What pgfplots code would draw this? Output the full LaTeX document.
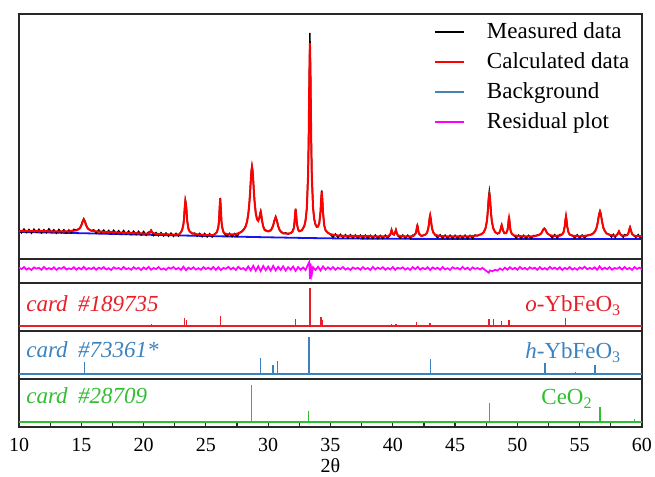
\documentclass[border=0pt]{standalone}
\usepackage{fontspec}
\setmainfont{Liberation Serif}
\usepackage{pgfplots}
\pgfplotsset{compat=1.18}

\definecolor{calcred}{RGB}{255,0,0}
\definecolor{cardred}{RGB}{232,30,40}
\definecolor{cardblue}{RGB}{60,130,190}
\definecolor{cardgreen}{RGB}{50,190,50}
\definecolor{bgblue}{RGB}{20,20,245}
\definecolor{legblue}{RGB}{70,130,180}
\definecolor{framegray}{RGB}{40,40,40}
\definecolor{resmag}{RGB}{255,0,255}

\pgfplotsset{
  panel/.style={
    scale only axis, width=311.5pt, xmin=10, xmax=60,
    xtick=\empty, ytick=\empty, anchor=south west,
    axis line style={framegray, line width=0.8pt},
  },
  card/.style={panel, height=24pt, ymin=-5, ymax=43},
  stick/.style={ycomb, line width=0.75pt, mark=none},
}
\tikzset{cardlbl/.style={font=\fontsize{11.5}{13}\selectfont, inner sep=0pt}}

\begin{document}
\begin{tikzpicture}
\path[use as bounding box] (0,0) rectangle (327.5pt,238.5pt);

% fitted pattern
\begin{axis}[panel, at={(9.5pt,109pt)}, height=122.5pt, ymin=0, ymax=245,
  legend style={draw=none, fill=none, at={(rel axis cs:0.99,0.99)}, anchor=north east,
    font=\fontsize{11.5}{14}\selectfont, inner sep=1pt, row sep=1.4pt,
    /tikz/every odd column/.append style={column sep=9pt}},
  legend cell align=left,
  legend image code/.code={\draw[#1, line width=1pt] (0pt,0pt) -- (14.5pt,0pt);},
]
\addlegendimage{black}
\addlegendentry{Measured data}
\addlegendimage{calcred}
\addlegendentry{Calculated data}
\addlegendimage{legblue}
\addlegendentry{Background}
\addlegendimage{resmag}
\addlegendentry{Residual plot}

\addplot[forget plot, bgblue, line width=0.9pt] coordinates {
(10,27) (15,25.8) (20,24.3) (25,23) (28,22.2) (30,21.7) (33,21) (36,20.5) (40,20.2) (45,20) (60,20)};

\addplot[forget plot, black, line width=0.7pt] coordinates {
(10.0,29.4) (10.2,26.3) (10.4,30.0) (10.6,26.6) (10.8,29.5) (11.0,25.9) (11.2,29.8) (11.4,26.8) (11.6,29.7) (11.8,26.0)
(12.0,29.3) (12.2,26.4) (12.4,30.2) (12.6,26.7) (12.8,29.2) (13.0,25.8) (13.2,29.5) (13.4,26.2) (13.6,29.2) (13.8,25.9)
(14.0,29.0) (14.2,26.4) (14.4,29.6) (14.6,28.9) (14.8,30.3) (14.9,31.5) (15.0,34.0) (15.1,37.8) (15.2,40.3) (15.3,37.6)
(15.4,33.8) (15.5,31.2) (15.6,29.9) (15.8,28.1) (16.0,29.2) (16.2,25.8) (16.4,29.1) (16.6,26.0) (16.8,28.9) (17.0,25.6)
(17.2,28.6) (17.4,25.4) (17.6,28.7) (17.8,25.2) (18.0,28.3) (18.2,25.0) (18.4,28.4) (18.6,24.8) (18.8,27.9) (19.0,24.5)
(19.2,27.8) (19.4,24.4) (19.6,27.6) (19.8,24.0) (20.0,27.5) (20.2,23.9) (20.4,27.0) (20.5,26.9) (20.6,29.0) (20.7,26.8)
(20.8,23.6) (21.0,26.4) (21.2,23.3) (21.4,26.3) (21.6,23.1) (21.8,26.0) (22.0,22.8) (22.2,25.9) (22.4,22.7) (22.6,25.6)
(22.8,23.0) (23.0,27.0) (23.1,29.5) (23.2,35.3) (23.25,41.6) (23.3,51.8) (23.35,58.8) (23.4,55.6) (23.45,48.3) (23.5,38.4)
(23.6,30.5) (23.7,27.6) (23.9,25.2) (24.1,25.9) (24.3,22.8) (24.5,25.6) (24.7,22.3) (24.9,25.5) (25.1,22.1) (25.3,25.3)
(25.5,22.0) (25.7,25.2) (25.8,25.9) (25.9,27.6) (26.0,32.4) (26.05,38.0) (26.1,51.2) (26.15,61.2) (26.2,51.0) (26.25,38.2)
(26.3,32.3) (26.4,27.0) (26.5,25.1) (26.7,22.6) (26.9,25.6) (27.1,22.3) (27.3,25.4) (27.5,22.5) (27.7,26.3) (27.9,27.9)
(28.1,30.8) (28.2,33.2) (28.3,37.6) (28.4,44.9) (28.5,58.0) (28.55,67.6) (28.6,78.6) (28.65,88.2) (28.7,93.0) (28.75,88.8)
(28.8,79.2) (28.85,68.3) (28.9,58.9) (29.0,46.4) (29.1,40.2) (29.2,38.8) (29.3,42.0) (29.35,45.8) (29.4,48.0) (29.45,44.5)
(29.5,39.2) (29.6,33.0) (29.7,29.9) (29.8,28.9) (30.0,27.9) (30.2,29.0) (30.3,30.8) (30.4,33.9) (30.5,38.8) (30.6,42.4)
(30.7,38.7) (30.8,33.1) (30.9,29.2) (31.0,27.3) (31.2,25.4) (31.4,26.2) (31.6,24.9) (31.8,25.9) (31.95,27.8) (32.05,31.0)
(32.1,35.4) (32.15,43.8) (32.2,50.2) (32.25,44.1) (32.3,35.9) (32.4,29.2) (32.5,27.6) (32.7,28.9) (32.9,33.3) (33.0,38.9)
(33.1,51.0) (33.2,84.0) (33.25,121) (33.3,182) (33.35,226) (33.4,183) (33.45,121.5) (33.5,84.2) (33.6,51.8) (33.7,39.8)
(33.8,34.5) (33.9,32.0) (34.0,32.8) (34.1,36.1) (34.2,47.8) (34.25,60.1) (34.3,68.5) (34.35,59.6) (34.4,46.8) (34.5,33.6)
(34.6,28.6) (34.8,26.4) (35.0,24.5) (35.2,21.8) (35.4,25.0) (35.6,21.5) (35.8,24.6) (36.0,21.2) (36.2,24.3) (36.4,20.9)
(36.6,24.2) (36.8,20.8) (37.0,24.0) (37.2,20.7) (37.4,23.9) (37.6,20.6) (37.8,23.8) (38.0,20.5) (38.2,23.7) (38.4,20.6)
(38.6,23.9) (38.8,20.4) (39.0,23.6) (39.2,20.6) (39.4,23.8) (39.6,21.0) (39.8,24.3) (39.85,26.9) (39.9,29.2) (39.95,26.6)
(40.0,25.3) (40.1,24.2) (40.2,27.4) (40.25,29.1) (40.3,26.5) (40.4,23.4) (40.6,21.0) (40.8,24.0) (41.0,20.7) (41.2,23.8)
(41.4,20.8) (41.6,23.9) (41.7,23.6) (41.85,26.2) (41.9,29.0) (41.95,33.2) (41.97,33.8) (42.0,32.0) (42.05,28.3) (42.1,25.2)
(42.3,22.8) (42.45,23.6) (42.6,24.5) (42.75,26.2) (42.85,30.9) (42.9,35.1) (42.95,40.8) (43.0,43.9) (43.05,40.2) (43.1,35.0)
(43.15,30.4) (43.25,26.7) (43.4,23.9) (43.6,21.3) (43.8,24.2) (44.0,20.8) (44.2,23.9) (44.4,20.5) (44.6,23.8) (44.8,20.4)
(45.0,23.7) (45.2,20.3) (45.4,23.5) (45.6,20.5) (45.8,23.8) (46.0,20.4) (46.2,23.6) (46.4,20.7) (46.6,24.0) (46.8,23.2)
(47.0,24.6) (47.1,24.9) (47.3,27.0) (47.45,31.3) (47.55,38.0) (47.6,44.4) (47.65,53.0) (47.7,63.0) (47.75,68.2) (47.8,62.8)
(47.85,52.9) (47.9,44.6) (47.95,38.1) (48.05,31.6) (48.2,27.4) (48.4,25.1) (48.55,26.5) (48.65,29.8) (48.7,32.6) (48.74,34.1)
(48.8,31.4) (48.85,28.2) (48.95,25.6) (49.1,26.1) (49.2,29.0) (49.25,32.8) (49.3,39.6) (49.33,41.0) (49.36,39.5) (49.4,33.7)
(49.45,28.4) (49.55,25.4) (49.75,23.2) (49.9,21.0) (50.1,23.9) (50.3,20.6) (50.5,23.7) (50.7,20.5) (50.9,23.6) (51.1,20.6)
(51.3,23.4) (51.5,23.5) (51.75,24.4) (51.9,25.2) (52.0,27.8) (52.08,29.8) (52.16,30.6) (52.25,29.5) (52.35,26.4) (52.45,25.4)
(52.65,23.3) (52.8,21.2) (53.0,24.3) (53.2,21.0) (53.4,24.4) (53.6,24.8) (53.7,26.8) (53.8,32.9) (53.85,38.9) (53.9,42.8)
(53.95,38.2) (54.0,32.2) (54.1,26.9) (54.2,24.2) (54.4,23.6) (54.6,21.1) (54.8,24.2) (55.0,20.9) (55.2,24.0) (55.4,21.2)
(55.6,23.7) (55.9,24.5) (56.1,25.9) (56.25,28.3) (56.35,31.2) (56.45,36.8) (56.55,44.9) (56.63,47.9) (56.7,45.3) (56.8,37.3)
(56.9,31.0) (57.0,28.6) (57.15,25.4) (57.4,24.4) (57.55,21.9) (57.7,24.6) (57.85,21.6) (57.95,23.9) (58.05,25.3) (58.15,27.8)
(58.25,24.8) (58.35,23.9) (58.5,21.8) (58.6,24.4) (58.8,24.1) (58.9,25.8) (58.95,27.9) (59.0,30.6) (59.04,31.9) (59.1,29.4)
(59.2,25.3) (59.35,23.8) (59.5,21.5) (59.7,24.4) (59.85,21.3) (60.0,24.0)};

\addplot[forget plot, calcred, line width=1pt] coordinates {
(10,28) (11,27.8) (12,27.8) (13,27.6) (14,27.5) (14.2,28) (14.6,28.6) (14.8,29.8) (14.9,31) (15.0,33.4)
(15.1,37) (15.2,39.4) (15.3,37) (15.4,33.3) (15.5,30.9) (15.6,29.6) (15.8,28.4) (16.2,27.6) (17,27) (18,26.5)
(19,26) (20,25.5) (20.4,25.3) (20.5,26.4) (20.6,28.2) (20.7,26.4) (20.9,25.3) (21.5,24.8) (22,24.5) (22.8,24.3)
(23.0,26.8) (23.1,29) (23.2,34.8) (23.25,41) (23.3,51) (23.35,58) (23.4,55) (23.45,48) (23.5,38) (23.6,30)
(23.7,27.5) (23.9,25.7) (24.3,24.6) (25,24) (25.6,23.8) (25.8,25.6) (25.9,27.3) (26.0,32) (26.05,37.6) (26.1,50.6)
(26.15,60.5) (26.2,50.6) (26.25,37.6) (26.3,32) (26.4,27.3) (26.5,25.6) (26.8,24.5) (27.3,24.6) (27.7,26.1) (27.9,27.5)
(28.1,30.3) (28.2,32.9) (28.3,37.1) (28.4,44.4) (28.5,57.5) (28.55,67) (28.6,77.9) (28.65,87.5) (28.7,92) (28.75,88)
(28.8,78.5) (28.85,67.7) (28.9,58.3) (29.0,45.9) (29.1,39.6) (29.2,38.1) (29.3,41.3) (29.35,45.1) (29.4,47) (29.45,43.8)
(29.5,38.6) (29.6,32.3) (29.7,29.3) (29.8,28.3) (30.0,27.6) (30.2,28.5) (30.3,30.4) (30.4,33.5) (30.5,38.4) (30.6,41.7)
(30.7,38.2) (30.8,32.8) (30.9,29.5) (31.0,27.7) (31.2,25.8) (31.5,25.3) (31.8,25.8) (31.95,27.3) (32.05,30.5) (32.1,34.8)
(32.15,43) (32.2,50) (32.25,43.6) (32.3,35.5) (32.4,29.5) (32.5,27.8) (32.7,28.6) (32.9,32.9) (33.0,38.5) (33.1,50.5)
(33.2,83) (33.25,119.5) (33.3,177.5) (33.35,216) (33.4,178) (33.45,120) (33.5,83.3) (33.6,51) (33.7,39.2) (33.8,34.2)
(33.9,32.2) (34.0,32.3) (34.1,35.6) (34.2,47.1) (34.25,59.4) (34.3,67.6) (34.35,58.9) (34.4,46.2) (34.5,33.3) (34.6,28.9)
(34.8,26) (35.0,24.8) (35.5,23.6) (36,23.2) (37,23) (38,22.8) (39,22.6) (39.6,22.6) (39.8,24.6) (39.85,26.6)
(39.9,28.8) (39.95,26.9) (40.0,25.1) (40.1,24.5) (40.2,27.1) (40.25,28.9) (40.3,26.8) (40.4,23.7) (40.6,22.9) (41.5,22.5)
(41.7,23.4) (41.85,25.9) (41.9,28.7) (41.95,32.9) (41.97,33.5) (42.0,32.1) (42.05,28) (42.1,25.5) (42.3,23.1) (42.6,24.2)
(42.75,26.4) (42.85,30.7) (42.9,34.8) (42.95,40.4) (43.0,43.5) (43.05,40.4) (43.1,34.8) (43.15,30.7) (43.25,26.4) (43.4,24.2)
(43.7,23.1) (44,22.8) (45,22.5) (46,22.5) (46.8,23.5) (47.1,24.6) (47.3,26.7) (47.45,30.9) (47.55,37.5) (47.6,43.5)
(47.65,51.5) (47.7,60.5) (47.75,64.5) (47.8,60.5) (47.85,51.5) (47.9,43.5) (47.95,37.5) (48.05,31.1) (48.2,27) (48.4,25.4)
(48.55,26.1) (48.65,29.4) (48.7,32.4) (48.74,33.8) (48.8,31.1) (48.85,28.4) (48.95,25.9) (49.1,25.8) (49.2,28.7) (49.25,32.5)
(49.3,39.2) (49.33,41.3) (49.36,39.1) (49.4,33.4) (49.45,28.7) (49.55,25.1) (49.75,23.5) (50.5,22.5) (51.3,22.5) (51.5,23.2)
(51.75,24.1) (51.9,25.5) (52.0,27.4) (52.08,29.4) (52.16,30.5) (52.25,29.2) (52.35,26.7) (52.45,25.1) (52.65,23.6) (53.0,23.2)
(53.4,23.3) (53.6,24.5) (53.7,26.5) (53.8,32.5) (53.85,38.5) (53.9,42.5) (53.95,38.5) (54.0,32.5) (54.1,26.5) (54.2,24.5)
(54.4,23.3) (55,22.7) (55.6,23.4) (55.9,24.2) (56.1,25.6) (56.25,27.9) (56.35,30.9) (56.45,36.3) (56.55,44.1) (56.63,47.5)
(56.7,44.8) (56.8,37) (56.9,31.4) (57.0,28.2) (57.15,25.7) (57.4,24.1) (57.7,23.3) (57.95,23.5) (58.05,25) (58.15,27.5)
(58.25,25) (58.35,23.7) (58.6,23.3) (58.8,23.8) (58.9,25.5) (58.95,27.5) (59.0,30.2) (59.04,31.5) (59.1,29.1) (59.2,25)
(59.35,23.4) (59.6,22.9) (60,22.8)};
\end{axis}

% residual
\begin{axis}[panel, at={(9.5pt,97pt)}, height=12pt, ymin=0, ymax=24]
\addplot[resmag, line width=0.85pt] coordinates {
(10.0,15.4) (10.2,13.9) (10.4,15.9) (10.6,13.4) (10.8,14.8) (11.0,13.0) (11.2,15.6) (11.4,14.3) (11.6,15.2) (11.8,13.2)
(12.0,16.1) (12.2,13.7) (12.4,14.9) (12.6,13.6) (12.8,15.7) (13.0,13.1) (13.2,15.1) (13.4,14.2) (13.6,16.0) (13.8,13.5)
(14.0,14.7) (14.2,13.8) (14.4,15.8) (14.6,13.3) (14.8,15.3) (15.0,13.6) (15.2,16.2) (15.4,13.4) (15.6,15.0) (15.8,13.9)
(16.0,15.6) (16.2,13.2) (16.4,15.4) (16.6,14.0) (16.8,15.9) (17.0,13.5) (17.2,14.8) (17.4,13.1) (17.6,15.7) (17.8,14.2)
(18.0,15.1) (18.2,13.4) (18.4,16.0) (18.6,13.8) (18.8,14.9) (19.0,13.3) (19.2,15.8) (19.4,14.1) (19.6,15.2) (19.8,13.0)
(20.0,15.6) (20.2,13.7) (20.4,16.1) (20.6,13.2) (20.8,15.0) (21.0,13.9) (21.2,15.9) (21.4,13.5) (21.6,14.6) (21.8,13.1)
(22.0,15.5) (22.2,14.3) (22.4,16.0) (22.6,13.6) (22.8,15.2) (23.0,13.0) (23.2,16.3) (23.4,12.8) (23.6,15.4) (23.8,13.8)
(24.0,15.7) (24.2,13.4) (24.4,14.9) (24.6,13.2) (24.8,15.9) (25.0,14.0) (25.2,15.3) (25.4,13.5) (25.6,16.0) (25.8,13.1)
(26.0,15.8) (26.2,12.9) (26.4,15.1) (26.6,14.2) (26.8,16.1) (27.0,13.6) (27.2,15.4) (27.4,13.0) (27.6,16.2) (27.8,13.9)
(28.0,15.0) (28.2,12.7) (28.4,16.6) (28.6,12.5) (28.8,17.2) (29.0,12.2) (29.2,16.8) (29.4,11.9) (29.6,17.0) (29.8,12.8)
(30.0,16.4) (30.2,12.3) (30.4,17.1) (30.6,12.6) (30.8,16.2) (31.0,13.0) (31.2,16.7) (31.4,12.4) (31.6,15.9) (31.8,13.3)
(32.0,16.5) (32.2,12.1) (32.4,16.0) (32.6,13.2) (32.8,15.6) (33.0,12.9) (33.2,18.5) (33.3,21.0) (33.35,4.0) (33.4,19.5)
(33.5,8.5) (33.6,15.8) (33.8,12.9) (34.0,16.2) (34.2,12.5) (34.4,16.6) (34.6,13.4) (34.8,15.7) (35.0,13.6) (35.2,15.9)
(35.4,13.2) (35.6,15.3) (35.8,13.9) (36.0,16.0) (36.2,13.4) (36.4,14.9) (36.6,13.1) (36.8,15.6) (37.0,14.1) (37.2,15.2)
(37.4,13.3) (37.6,15.9) (37.8,13.8) (38.0,15.0) (38.2,13.0) (38.4,16.1) (38.6,13.6) (38.8,15.4) (39.0,14.0) (39.2,15.8)
(39.4,13.2) (39.6,15.1) (39.8,13.5) (40.0,16.0) (40.2,13.1) (40.4,15.3) (40.6,14.2) (40.8,15.7) (41.0,13.4) (41.2,15.0)
(41.4,13.0) (41.6,15.9) (41.8,13.8) (42.0,16.2) (42.2,13.3) (42.4,15.2) (42.6,13.7) (42.8,15.8) (43.0,12.9) (43.2,15.6)
(43.4,14.0) (43.6,15.3) (43.8,13.2) (44.0,16.0) (44.2,13.6) (44.4,14.8) (44.6,13.1) (44.8,15.7) (45.0,14.3) (45.2,15.1)
(45.4,13.4) (45.6,16.1) (45.8,13.8) (46.0,15.4) (46.2,13.0) (46.4,15.6) (46.6,14.1) (46.8,15.0) (47.0,13.5) (47.2,15.2)
(47.4,13.0) (47.6,11.2) (47.7,10.2) (47.8,12.6) (48.0,11.8) (48.2,13.2) (48.4,12.4) (48.6,14.6) (48.8,13.0) (49.0,15.4)
(49.2,13.3) (49.4,15.8) (49.6,13.7) (49.8,15.2) (50.0,13.2) (50.2,16.0) (50.4,13.9) (50.6,15.1) (50.8,13.4) (51.0,15.7)
(51.2,14.2) (51.4,15.3) (51.6,13.1) (51.8,15.9) (52.0,13.6) (52.2,15.0) (52.4,13.3) (52.6,16.1) (52.8,14.0) (53.0,15.4)
(53.2,13.5) (53.4,15.8) (53.6,13.0) (53.8,15.2) (54.0,13.8) (54.2,16.0) (54.4,13.4) (54.6,14.9) (54.8,13.2) (55.0,15.6)
(55.2,14.1) (55.4,16.3) (55.6,13.6) (55.8,15.1) (56.0,13.9) (56.2,15.7) (56.4,13.2) (56.6,16.6) (56.8,13.5) (57.0,15.3)
(57.2,13.8) (57.4,15.9) (57.6,13.3) (57.8,15.0) (58.0,14.2) (58.2,15.8) (58.4,13.4) (58.6,16.0) (58.8,13.7) (59.0,15.2)
(59.2,13.1) (59.4,15.9) (59.6,14.0) (59.8,15.4) (60.0,13.6)};
\end{axis}

% o-YbFeO3
\begin{axis}[card, at={(9.5pt,73pt)}]
\addplot[cardred, line width=1pt] coordinates {(10,0) (60,0)};
\addplot[cardred, stick] coordinates {
(20.65,2) (23.27,8) (23.46,6) (26.16,10) (32.2,7) (33.35,38) (34.24,9) (34.37,6) (39.9,2) (40.26,2)
(41.9,4) (43.0,3) (43.9,1) (47.72,7) (48.07,7) (48.74,5) (49.33,6) (53.0,1) (53.87,8)};
\node[cardlbl, text=cardred, anchor=base west] at (axis cs:10.56,14) {\textit{card\hspace{0.45em}\#189735}};
\node[cardlbl, text=cardred, anchor=base east] at (axis cs:58.37,14) {\textit{o}-YbFeO\textsubscript{3}};
\end{axis}

% h-YbFeO3
\begin{axis}[card, at={(9.5pt,49pt)}]
\addplot[cardblue, line width=1pt] coordinates {(10,0) (60,0)};
\addplot[cardblue, stick] coordinates {
(15.24,12) (29.4,16) (30.4,9) (30.73,13) (33.27,37) (37.58,1) (43.01,15) (49.33,1) (52.2,11) (54.68,2) (56.23,9)};
\node[cardlbl, text=cardblue, anchor=base west] at (axis cs:10.56,16) {\textit{card\hspace{0.45em}\#73361*}};
\node[cardlbl, text=cardblue, anchor=base east] at (axis cs:58.37,15) {\textit{h}-YbFeO\textsubscript{3}};
\end{axis}

% CeO2
\begin{axis}[card, at={(9.5pt,25pt)},
  xtick={10,15,...,60}, minor x tick num=1, xtick pos=bottom, tick align=inside,
  major tick length=2pt, minor tick length=2pt,
  tick style={framegray, line width=0.6pt},
  /pgf/number format/assume math mode=true,
  ticklabel style={font=\fontsize{10}{12}\selectfont},
  xticklabel style={yshift=-2pt},
  xlabel={2θ}, xlabel style={font=\fontsize{10}{12}\selectfont, yshift=3.2pt},
]
\addplot[cardgreen, line width=1pt] coordinates {(10,0) (60,0)};
\addplot[cardgreen, stick] coordinates {
(28.67,37) (33.22,11) (47.75,19) (56.63,15) (59.38,3)};
\node[cardlbl, text=cardgreen, anchor=base west] at (axis cs:10.56,18) {\textit{card\hspace{0.45em}\#28709}};
\node[cardlbl, text=cardgreen, anchor=base east] at (axis cs:56.07,17) {CeO\textsubscript{2}};
\end{axis}
\end{tikzpicture}
\end{document}
